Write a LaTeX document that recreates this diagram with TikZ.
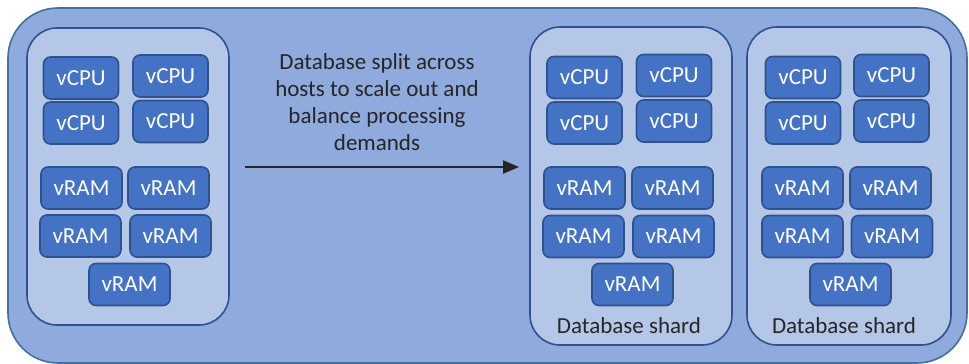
\documentclass[tikz,border=0pt]{standalone}
\usepackage{fontspec}
\setmainfont{Carlito}
\usetikzlibrary{arrows.meta}
\definecolor{outerfill}{HTML}{8FAADC}
\definecolor{outerdraw}{HTML}{41719C}
\definecolor{innerfill}{HTML}{B4C7E7}
\definecolor{innerdraw}{HTML}{2F528F}
\definecolor{boxfill}{HTML}{4472C4}
\definecolor{boxdraw}{HTML}{2F528F}
\definecolor{txt}{HTML}{262626}
\begin{document}
\begin{tikzpicture}[x=1pt,y=-1pt,
  unit/.style={draw=boxdraw,fill=boxfill,line width=1.6pt,rounded corners=7pt,
    text=white,font=\fontsize{23}{27}\selectfont,minimum height=42pt,inner sep=0pt},
  cpu/.style={unit,minimum width=75pt},
  ram/.style={unit,minimum width=81pt},
  hostbox/.style={draw=innerdraw,fill=innerfill,line width=1.6pt,rounded corners=30pt},
  lbl/.style={text=txt,font=\fontsize{23}{27}\selectfont,align=center}]
\useasboundingbox (0,0) rectangle (969,364);
\draw[draw=outerdraw,fill=outerfill,line width=1.6pt,rounded corners=50pt] (8,8) rectangle (967,363);
% host
\draw[hostbox] (27,28) rectangle (229,325);
\node[cpu] (h1) at (81,78) {vCPU};
\node[cpu] (h2) at (170.5,76) {vCPU};
\node[cpu] (h3) at (81,123) {vCPU};
\node[cpu] (h4) at (170.5,121.5) {vCPU};
\node[ram] (hr1) at (81.5,188) {vRAM};
\node[ram] (hr2) at (168.5,188) {vRAM};
\node[ram] (hr3) at (80.5,236) {vRAM};
\node[ram] (hr4) at (170.5,236) {vRAM};
\node[ram] (hr5) at (129.5,284.5) {vRAM};
% shard 1
\draw[hostbox] (530,27) rectangle (732,345);
\node[cpu] (a1) at (584.5,77.5) {vCPU};
\node[cpu] (a2) at (674,75.5) {vCPU};
\node[cpu] (a3) at (584.5,123) {vCPU};
\node[cpu] (a4) at (674,121) {vCPU};
\node[ram] (ar1) at (584.5,188) {vRAM};
\node[ram] (ar2) at (672.5,188) {vRAM};
\node[ram] (ar3) at (583.5,236.5) {vRAM};
\node[ram] (ar4) at (673.5,236.5) {vRAM};
\node[ram] (ar5) at (632.5,284.5) {vRAM};
\node[lbl] (al) at (629,326) {Database shard};
% shard 2
\draw[hostbox] (747,27) rectangle (951,345);
\node[cpu] (b1) at (803,77.5) {vCPU};
\node[cpu] (b2) at (891.5,75.5) {vCPU};
\node[cpu] (b3) at (803,123) {vCPU};
\node[cpu] (b4) at (891.5,121) {vCPU};
\node[ram] (br1) at (802.5,188) {vRAM};
\node[ram] (br2) at (890.5,188) {vRAM};
\node[ram] (br3) at (802.5,236.5) {vRAM};
\node[ram] (br4) at (892,236.5) {vRAM};
\node[ram] (br5) at (850.5,284.5) {vRAM};
\node[lbl] (bl) at (844,326) {Database shard};
% arrow
\node[lbl] (desc) at (377,102) {Database split across\\hosts to scale out and\\balance processing\\demands};
\coordinate (s) at (245,167);
\coordinate (e) at (519,167);
\draw[line width=2pt,txt,-{Triangle[length=16pt,width=13pt]}] (s) -- (e);
\end{tikzpicture}
\end{document}
